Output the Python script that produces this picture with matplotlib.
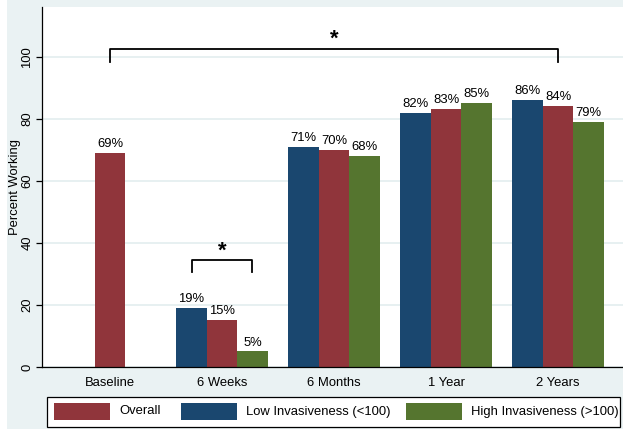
import numpy as np
import matplotlib
matplotlib.use("Agg")
import matplotlib.pyplot as plt
from matplotlib.patches import Rectangle

plt.rcParams['font.family'] = ['Liberation Sans', 'DejaVu Sans']

# data
categories = ["Baseline", "6 Weeks", "6 Months", "1 Year", "2 Years"]
overall = [69, 15, 70, 83, 84]
low_inv = [19, 71, 82, 86]      # from 6 Weeks on
high_inv = [5, 68, 85, 79]      # from 6 Weeks on
series_names = ["Overall", "Low Invasiveness (<100)", "High Invasiveness (>100)"]
yticks = [0, 20, 40, 60, 80, 100]

c_overall = "#90353B"
c_low = "#1A476F"
c_high = "#55752F"
bg = "#EAF2F3"
grid_c = "#E3EDEF"

W, H = 623, 429
fig = plt.figure(figsize=(W / 100, H / 100), dpi=100, facecolor=bg)
# white strip on the far left of the original
fig.add_artist(Rectangle((0, 0), 7 / W, 1, transform=fig.transFigure,
                         facecolor="white", edgecolor="none"))

ax_l, ax_r, ax_t, ax_b = 42, 623, 7, 367
ax = fig.add_axes([ax_l / W, 1 - ax_b / H, (ax_r - ax_l) / W, (ax_b - ax_t) / H])
ax.set_facecolor("white")

x = np.arange(len(categories))
w = 0.272
fs = 9.4

b_all = ax.bar(x, overall, w, color=c_overall, zorder=2)
b_low = ax.bar(x[1:] - w, low_inv, w, color=c_low, zorder=2)
b_high = ax.bar(x[1:] + w, high_inv, w, color=c_high, zorder=2)

for bars, vals in [(b_all, overall), (b_low, low_inv), (b_high, high_inv)]:
    for b, v in zip(bars, vals):
        ax.annotate(f"{v}%", (b.get_x() + b.get_width() / 2, v),
                    xytext=(0, 4.3), textcoords="offset points",
                    ha="center", va="baseline", fontsize=9.4, color="black")

# significance brackets
def bracket(x0, x1, y_top, y_leg, y_star):
    ax.plot([x0, x0, x1, x1], [y_leg, y_top, y_top, y_leg], color="black",
            lw=1.3, zorder=3, solid_joinstyle="round")
    ax.text((x0 + x1) / 2, y_star, "*", ha="center", va="baseline",
            fontsize=16, fontweight="bold", zorder=3)

bracket(x[0], x[4], 102.6, 98.4, 103.8)
bracket(x[1] - w, x[1] + w, 34.5, 30.6, 35.6)

ax.set_xlim(-0.607, 4.58)
ax.set_ylim(0, 116)
ax.set_yticks(yticks)
ax.set_yticklabels([str(t) for t in yticks], fontsize=fs, rotation=90, va="center")
ax.set_xticks(x)
ax.set_xticklabels(categories, fontsize=fs)
ax.tick_params(axis="x", length=0, pad=7)
ax.tick_params(axis="y", length=4.3, width=0.9, pad=2)
ax.yaxis.grid(True, color=grid_c, lw=1.2, zorder=0)
ax.set_axisbelow(True)
for s in ["top", "right"]:
    ax.spines[s].set_visible(False)
for s in ["left", "bottom"]:
    ax.spines[s].set_linewidth(0.9)
ax.set_ylabel("Percent Working", fontsize=fs)
ax.yaxis.set_label_coords((21 - ax_l) / (ax_r - ax_l), 0.5)

# legend box drawn in figure pixels
def fr(x0, y0, x1, y1, **kw):
    return Rectangle((x0 / W, 1 - y1 / H), (x1 - x0) / W, (y1 - y0) / H,
                     transform=fig.transFigure, **kw)

fig.add_artist(fr(47, 397, 620, 427, facecolor="white", edgecolor="black", lw=0.9))
leg_colors = [c_overall, c_low, c_high]
patch_x = [54, 180.5, 406]
text_x = [119, 245.6, 471]
for name, col, px, tx in zip(series_names, leg_colors, patch_x, text_x):
    fig.add_artist(fr(px, 403, px + 56, 420, facecolor=col, edgecolor="none"))
    fig.text(tx / W, 1 - 411.5 / H, name, fontsize=fs, va="center", ha="left")

fig.savefig("out.png", dpi=100, facecolor=bg)
